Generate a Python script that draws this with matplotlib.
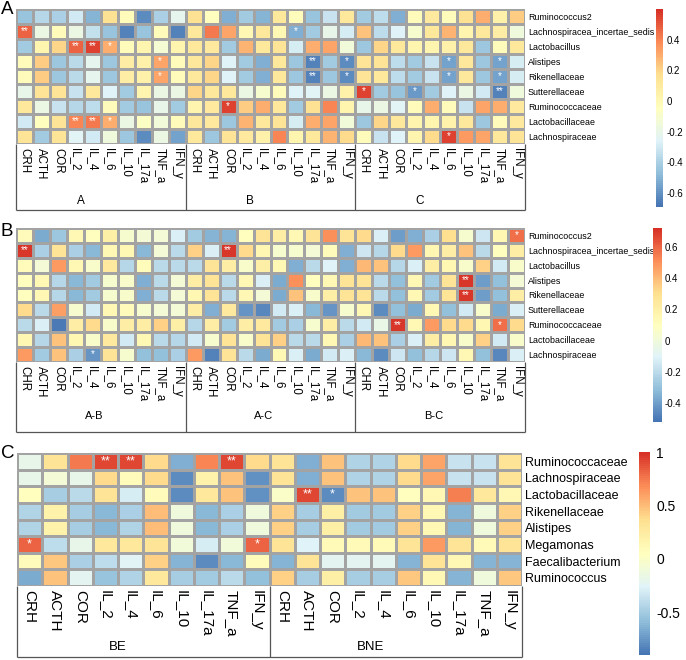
import numpy as np
import matplotlib
matplotlib.use("Agg")
import matplotlib.pyplot as plt
from matplotlib.colors import LinearSegmentedColormap

# ---- data -------------------------------------------------------------
rows_ab = ["Ruminococcus2", "Lachnospiracea_incertae_sedis", "Lactobacillus",
           "Alistipes", "Rikenellaceae", "Sutterellaceae", "Ruminococcaceae",
           "Lactobacillaceae", "Lachnospiraceae"]
rows_c = ["Ruminococcaceae", "Lachnospiraceae", "Lactobacillaceae", "Rikenellaceae",
          "Alistipes", "Megamonas", "Faecalibacterium", "Ruminococcus"]
cols_a = ["CRH", "ACTH", "COR", "IL_2", "IL_4", "IL_6", "IL_10", "IL_17a", "TNF_a", "IFN_y"]
cols_b = ["CHR", "ACTH", "COR", "IL_2", "IL_4", "IL_6", "IL_10", "IL_17a", "TNF_a", "IFN_y"]
groups_a = ["A", "B", "C"]
groups_b = ["A-B", "A-C", "B-C"]
groups_c = ["BE", "BNE"]

# panel A: correlation, groups A | B | C
vals_a = [
    [-0.45, -0.38, -0.40, -0.30, -0.50, 0.15, -0.02, -0.62, -0.40, -0.22,
     0.15, -0.04, -0.52, -0.42, -0.50, 0.12, -0.02, -0.45, -0.32, 0.12,
     -0.42, -0.35, -0.52, -0.02, 0.10, -0.02, 0.15, 0.30, 0.05, 0.22],
    [0.48, -0.18, -0.03, -0.18, -0.33, -0.45, -0.65, -0.45, -0.02, -0.65,
     0.12, 0.42, 0.32, 0.00, 0.12, 0.00, -0.52, -0.42, -0.20, -0.28,
     0.25, -0.35, -0.26, -0.10, 0.12, 0.28, 0.02, 0.12, 0.08, -0.15],
    [-0.42, 0.02, 0.20, 0.48, 0.55, 0.30, -0.02, 0.02, -0.12, 0.02,
     0.12, 0.10, -0.42, 0.28, 0.12, 0.14, -0.28, 0.30, 0.32, -0.14,
     -0.44, 0.20, 0.12, 0.02, 0.02, 0.05, 0.12, -0.44, -0.02, 0.12],
    [-0.02, 0.22, -0.44, -0.36, -0.22, -0.44, 0.08, 0.05, 0.32, -0.02,
     0.12, 0.20, -0.26, -0.42, -0.52, 0.12, -0.44, -0.64, -0.42, -0.62,
     0.14, 0.14, -0.35, -0.42, -0.32, -0.55, 0.12, -0.44, -0.55, -0.28],
    [-0.02, 0.22, -0.44, -0.36, -0.22, -0.44, 0.08, 0.05, 0.32, -0.02,
     0.12, 0.20, -0.26, -0.42, -0.52, 0.12, -0.44, -0.64, -0.44, -0.62,
     0.14, 0.12, -0.35, -0.42, -0.32, -0.55, 0.12, -0.44, -0.55, -0.28],
    [-0.20, 0.14, 0.14, -0.32, 0.12, -0.26, -0.42, 0.02, -0.18, -0.18,
     0.20, 0.12, 0.12, -0.18, -0.10, -0.02, -0.26, -0.24, -0.18, 0.05,
     0.55, -0.42, -0.45, -0.58, -0.42, -0.26, -0.18, -0.30, -0.65, -0.15],
    [0.12, -0.18, -0.32, -0.38, -0.35, -0.02, -0.42, -0.45, -0.20, -0.42,
     0.02, 0.10, 0.55, 0.22, 0.30, 0.12, -0.42, 0.16, 0.40, 0.02,
     -0.20, -0.18, -0.24, -0.02, 0.30, -0.02, -0.32, 0.32, 0.30, 0.10],
    [-0.30, -0.04, 0.14, 0.40, 0.42, 0.30, -0.18, -0.06, -0.14, -0.02,
     0.12, 0.10, -0.44, 0.28, 0.12, 0.14, -0.28, 0.30, 0.32, -0.14,
     -0.44, 0.20, 0.12, 0.02, 0.02, 0.04, 0.12, -0.44, -0.02, 0.10],
    [0.14, -0.42, 0.14, -0.24, -0.30, -0.15, -0.44, -0.62, -0.18, -0.55,
     0.12, -0.44, 0.14, 0.10, 0.05, 0.40, 0.02, 0.12, 0.28, 0.18,
     -0.02, -0.32, -0.26, 0.02, 0.18, 0.55, 0.35, 0.32, 0.12, 0.14],
]
marks_a = [("Lachnospiracea_incertae_sedis", 0, "**"), ("Lachnospiracea_incertae_sedis", 16, "*"),
           ("Lactobacillus", 3, "**"), ("Lactobacillus", 4, "**"), ("Lactobacillus", 5, "*"),
           ("Alistipes", 8, "*"), ("Alistipes", 17, "**"), ("Alistipes", 19, "*"),
           ("Alistipes", 25, "*"), ("Alistipes", 28, "*"),
           ("Rikenellaceae", 8, "*"), ("Rikenellaceae", 17, "**"), ("Rikenellaceae", 19, "*"),
           ("Rikenellaceae", 25, "*"), ("Rikenellaceae", 28, "*"),
           ("Sutterellaceae", 20, "*"), ("Sutterellaceae", 23, "*"), ("Sutterellaceae", 28, "**"),
           ("Ruminococcaceae", 12, "*"),
           ("Lactobacillaceae", 3, "**"), ("Lactobacillaceae", 4, "**"), ("Lactobacillaceae", 5, "*"),
           ("Lachnospiraceae", 25, "*")]

# panel B: groups A-B | A-C | B-C
vals_b = [
    [0.12, -0.36, -0.28, 0.14, 0.10, 0.20, 0.04, 0.02, 0.02, -0.12,
     -0.26, -0.34, -0.34, 0.10, 0.28, 0.22, 0.14, 0.28, 0.50, 0.28,
     0.32, -0.12, -0.40, -0.35, -0.24, 0.30, 0.04, -0.16, 0.16, 0.58],
    [0.70, -0.24, 0.28, -0.24, -0.33, 0.14, 0.14, -0.33, 0.02, -0.20,
     0.34, -0.12, 0.70, 0.32, 0.16, 0.04, 0.04, 0.02, 0.12, -0.35,
     -0.16, -0.22, 0.32, 0.48, 0.16, 0.22, 0.38, -0.20, 0.10, 0.22],
    [0.12, 0.02, 0.48, 0.14, 0.06, 0.24, -0.22, 0.12, -0.20, -0.20,
     -0.20, 0.28, 0.22, 0.06, 0.20, 0.14, -0.35, -0.20, -0.10, -0.35,
     0.40, 0.38, -0.22, -0.12, 0.22, 0.16, 0.06, 0.34, -0.14, 0.06],
    [0.10, 0.14, -0.22, -0.33, -0.26, 0.04, 0.06, -0.35, -0.20, 0.02,
     0.22, 0.28, -0.20, 0.14, -0.12, -0.37, 0.50, 0.10, 0.14, 0.28,
     0.28, -0.20, -0.30, 0.14, -0.26, 0.28, 0.70, -0.40, -0.30, 0.02],
    [0.10, 0.14, -0.22, -0.33, -0.26, 0.04, 0.06, -0.35, -0.20, 0.02,
     0.16, 0.28, -0.20, 0.14, 0.02, -0.37, 0.38, 0.06, 0.20, 0.28,
     0.28, -0.20, -0.30, 0.14, -0.26, 0.28, 0.70, -0.40, -0.30, 0.22],
    [0.32, -0.20, 0.46, 0.04, -0.14, 0.14, 0.12, 0.04, 0.02, 0.02,
     0.22, -0.35, 0.24, -0.43, -0.47, -0.14, -0.12, -0.33, -0.43, 0.04,
     0.14, -0.45, -0.30, -0.37, 0.14, -0.30, -0.14, 0.06, -0.37, -0.12],
    [-0.20, -0.12, -0.50, 0.22, 0.32, 0.06, 0.22, 0.22, 0.34, 0.20,
     -0.22, 0.22, -0.26, 0.22, 0.24, -0.26, -0.24, 0.04, 0.22, -0.20,
     -0.14, -0.04, 0.70, 0.14, 0.48, 0.32, 0.32, 0.16, 0.58, 0.32],
    [0.16, -0.22, 0.38, 0.16, 0.06, 0.24, -0.14, 0.14, -0.20, -0.22,
     -0.14, 0.04, 0.28, 0.06, 0.28, 0.34, -0.20, -0.20, 0.14, -0.24,
     0.40, 0.38, -0.24, -0.12, 0.22, 0.16, 0.06, 0.34, -0.14, 0.06],
    [0.48, -0.26, 0.38, -0.24, -0.43, 0.28, 0.04, -0.30, -0.30, -0.24,
     0.48, -0.48, 0.28, -0.20, -0.37, 0.14, -0.12, -0.37, -0.14, -0.12,
     -0.33, -0.45, -0.16, -0.30, -0.22, -0.16, 0.14, -0.30, -0.47, -0.12],
]
marks_b = [("Ruminococcus2", 29, "*"),
           ("Lachnospiracea_incertae_sedis", 0, "**"), ("Lachnospiracea_incertae_sedis", 12, "**"),
           ("Alistipes", 26, "**"), ("Rikenellaceae", 26, "**"),
           ("Ruminococcaceae", 22, "**"), ("Ruminococcaceae", 28, "*"),
           ("Lachnospiraceae", 4, "*")]

# panel C: groups BE | BNE
vals_c = [
    [-0.18, 0.32, 0.75, 0.92, 0.92, 0.38, -0.65, 0.70, 0.92, 0.38,
     0.32, -0.65, 0.48, -0.45, -0.45, 0.38, 0.60, -0.35, -0.35, 0.32],
    [-0.18, -0.08, -0.18, 0.38, 0.08, 0.38, -0.80, 0.18, 0.48, -0.78,
     0.32, -0.65, 0.48, -0.45, -0.45, 0.38, 0.60, -0.35, -0.35, 0.32],
    [0.05, -0.50, -0.42, 0.32, -0.30, 0.08, -0.80, 0.28, 0.48, -0.78,
     0.00, 0.92, -0.80, 0.48, 0.48, 0.05, 0.12, 0.72, 0.28, 0.12],
    [-0.45, 0.18, -0.50, -0.60, -0.48, 0.50, -0.12, -0.60, -0.47, -0.12,
     0.42, -0.50, 0.22, -0.52, -0.52, 0.42, 0.12, -0.62, -0.12, 0.42],
    [-0.45, 0.18, -0.50, -0.60, -0.45, 0.50, -0.12, -0.60, -0.47, -0.12,
     0.42, -0.50, 0.22, -0.52, -0.52, 0.42, 0.12, -0.62, -0.12, 0.42],
    [0.82, -0.40, -0.18, 0.28, 0.28, 0.32, -0.10, -0.30, -0.10, 0.82,
     0.32, -0.26, 0.10, 0.10, 0.10, 0.32, 0.62, 0.32, 0.10, 0.32],
    [0.08, 0.45, -0.47, -0.40, -0.25, 0.42, -0.62, -0.80, -0.60, 0.08,
     -0.62, 0.32, -0.22, -0.22, -0.22, -0.62, 0.32, 0.12, -0.62, -0.62],
    [-0.66, 0.48, -0.22, -0.55, -0.45, 0.28, -0.50, -0.52, -0.42, -0.56,
     0.42, -0.50, 0.22, -0.50, -0.50, 0.45, 0.12, -0.62, -0.12, 0.45],
]
marks_c = [("Ruminococcaceae", 3, "**"), ("Ruminococcaceae", 4, "**"), ("Ruminococcaceae", 8, "**"),
           ("Lactobacillaceae", 11, "**"), ("Lactobacillaceae", 12, "*"),
           ("Megamonas", 0, "*"), ("Megamonas", 9, "*")]

# ---- drawing ----------------------------------------------------------
W, H = 686, 660
SANS = ["Liberation Sans", "DejaVu Sans"]

fig = plt.figure(figsize=(W / 100, H / 100), dpi=100)
cmap = LinearSegmentedColormap.from_list(
    "pheat", ["#4575B4", "#91BFDB", "#E0F3F8", "#FFFFBF", "#FEE090", "#FC8D59", "#D73027"], N=100)


def rect(x0, y0, x1, y1):
    # pixel box (top-left origin) -> figure fraction
    return [x0 / W, 1 - y1 / H, (x1 - x0) / W, (y1 - y0) / H]


def panel(letter, letter_y, hm, box_bottom, vals, rows, cols, groups, group_dx, group_y,
          marks, vlim, cb, ticks, tick_txt, fs_row, fs_col, fs_grp, fs_cb, fs_star, cb_pad):
    x0, y0, x1, y1 = hm
    data = np.array(vals)
    nr, nc = data.shape
    ax = fig.add_axes(rect(x0, y0, x1, y1))
    mesh = ax.pcolormesh(data, cmap=cmap, vmin=vlim[0], vmax=vlim[1],
                         edgecolors="#a3a3a3", linewidth=0.9)
    ax.set_xlim(0, nc)
    ax.set_ylim(nr, 0)
    for s in ax.spines.values():
        s.set_visible(False)
    ax.set_xticks(np.arange(nc) + 0.5)
    ax.set_xticklabels(cols * len(groups), rotation=-90, fontsize=fs_col, family=SANS,
                       va="top", ha="center")
    ax.set_yticks(np.arange(nr) + 0.5)
    ax.set_yticklabels(rows, fontsize=fs_row, family=SANS)
    ax.yaxis.tick_right()
    ax.tick_params(axis="x", length=0, pad=3)
    ax.tick_params(axis="y", length=0, pad=2)
    for r, c, m in marks:
        ax.text(c + 0.5, rows.index(r) + 0.5, m, color="white", fontsize=fs_star,
                ha="center", va="center", family=SANS)

    # group boxes under the column labels
    bx = fig.add_axes(rect(x0, y1, x1, box_bottom))
    bx.set_xlim(0, nc)
    bx.set_ylim(1, 0)
    bx.axis("off")
    bx.vlines(np.arange(0, nc + 1, 10), 0, 1, color="#555555", lw=0.9, clip_on=False)
    bx.hlines(1, 0, nc, color="#555555", lw=0.9, clip_on=False)
    for g, name in enumerate(groups):
        bx.text(g * 10 + group_dx, (group_y - y1) / (box_bottom - y1), name,
                ha="center", va="center", fontsize=fs_grp, family=SANS)

    # colour bar
    cax = fig.add_axes(rect(*cb))
    cbar = fig.colorbar(mesh, cax=cax, ticks=ticks)
    cbar.outline.set_visible(False)
    cbar.set_ticklabels(tick_txt, fontsize=fs_cb, family=SANS)
    cax.tick_params(length=0, pad=cb_pad)

    fig.text(1 / W, 1 - letter_y / H, letter, fontsize=13.5, va="center", ha="left", family=SANS)


panel("A", 9, (16, 9, 525, 144), 210, vals_a, rows_ab, cols_a, groups_a, 3.8, 201,
      marks_a, (-0.69, 0.60), (656, 9, 663, 207),
      [0.4, 0.2, 0, -0.2, -0.4, -0.6], ["0.4", "0.2", "0", "-0.2", "-0.4", "-0.6"],
      6.4, 8.3, 8.5, 7, 7, 2.5)

panel("B", 231, (16, 228, 525, 362), 432, vals_b, rows_ab, cols_b, groups_b, 4.6, 416,
      marks_b, (-0.52, 0.72), (653, 228, 662, 422),
      [0.6, 0.4, 0.2, 0, -0.2, -0.4], ["0.6", "0.4", "0.2", "0", "-0.2", "-0.4"],
      6.4, 8.3, 8, 7, 7, 2.2)

panel("C", 453, (17, 453, 522, 586), 657, vals_c, rows_c, cols_a, groups_c, 4.0, 647,
      marks_c, (-0.90, 1.0), (639, 452, 650, 655),
      [1, 0.5, 0, -0.5], ["1", "0.5", "0", "-0.5"],
      9, 11, 9.5, 10, 9, 4.5)

fig.savefig("out.png", dpi=100)
